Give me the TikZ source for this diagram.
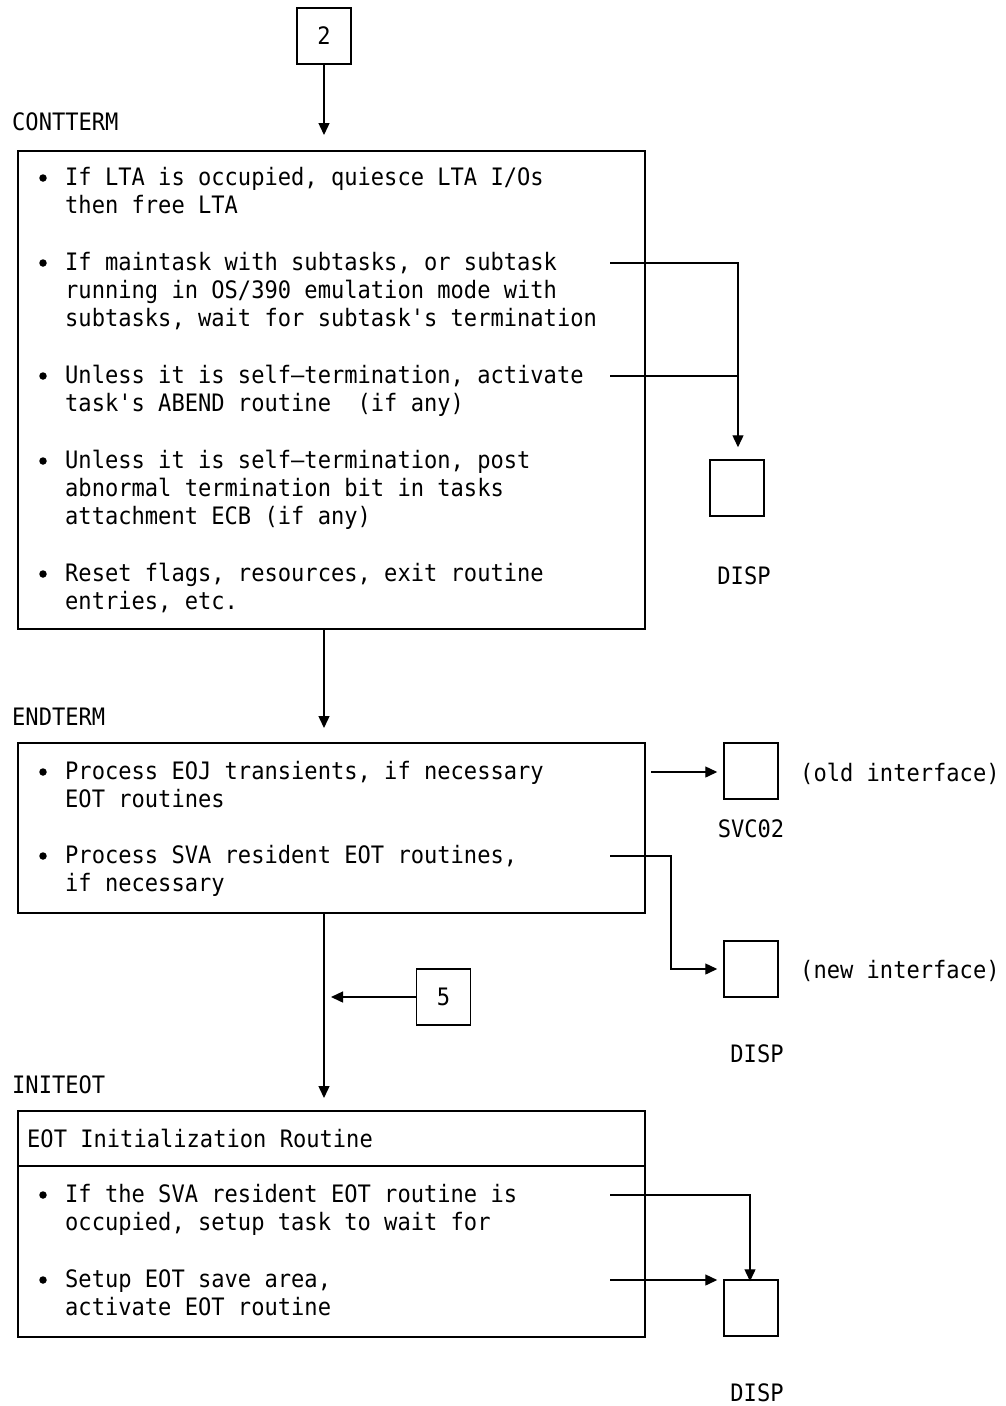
\documentclass[tikz,border=0pt]{standalone}
\usepackage{fontspec}
\usetikzlibrary{arrows.meta}
\newfontfamily\monof[FakeStretch=0.92]{DejaVu Sans Mono}
\begin{document}
\begin{tikzpicture}[x=1pt,y=-1pt,
  txt/.style={font=\monof\fontsize{24}{28}\selectfont, inner sep=0pt, anchor=north west, align=left, execute at begin node={\rule{0pt}{20pt}}},
  lbl/.style={font=\monof\fontsize{24}{28}\selectfont, inner sep=0pt, anchor=base},
  lbw/.style={font=\monof\fontsize{24}{28}\selectfont, inner sep=0pt, anchor=base west},
  bul/.style={circle, fill, inner sep=0pt, minimum size=7.5pt},
  frame/.style={draw, line width=1.5pt},
  conn/.style={line width=1.4pt},
  arr/.style={line width=1.4pt, -{Triangle[length=12pt,width=11pt]}},
  smallbox/.style={draw, line width=1.5pt, minimum width=54pt, minimum height=56pt, inner sep=0pt, font=\monof\fontsize{24}{28}\selectfont}
]
\useasboundingbox (0,0) rectangle (1005,1406);

% ---- top connector box 2
\node[smallbox] (c2) at (324,36) {2};
\node[lbw] (lcont) at (12,130) {CONTTERM};

% ---- CONTTERM box
\node[frame, minimum width=627pt, minimum height=478pt, inner sep=0pt, anchor=north west] (cont) at (17,150) {};
\node[bul] (b1) at (43,178) {};
\node[txt] (t1) at (65,167) {If LTA is occupied, quiesce LTA I/Os\\then free LTA};
\node[bul] (b2) at (43,263) {};
\node[txt] (t2) at (65,252) {If maintask with subtasks, or subtask\\running in OS/390 emulation mode with\\subtasks, wait for subtask's termination};
\node[bul] (b3) at (43,376) {};
\node[txt] (t3) at (65,365) {Unless it is self—termination, activate\\task's ABEND routine\ \ (if any)};
\node[bul] (b4) at (43,461) {};
\node[txt] (t4) at (65,450) {Unless it is self—termination, post\\abnormal termination bit in tasks\\attachment ECB (if any)};
\node[bul] (b5) at (43,574) {};
\node[txt] (t5) at (65,563) {Reset flags, resources, exit routine\\entries, etc.};

\node[smallbox] (disp1) at (737,488) {};
\node[lbl] (ldisp1) at (744,584) {DISP};

\coordinate (s1) at (610,263);
\coordinate (s2) at (610,376);
\coordinate (j1) at (738,263);
\coordinate (j2) at (738,376);
\draw[conn] (s1) -- (j1) -- (j2);
\draw[conn] (s2) -- (j2);
\draw[arr] (j2) -- ([yshift=12pt]disp1.north -| j2);

% ---- ENDTERM
\node[lbw] (lend) at (12,725) {ENDTERM};
\node[frame, minimum width=627pt, minimum height=170pt, inner sep=0pt, anchor=north west] (endt) at (17,742) {};
\node[bul] (e1b) at (43,772) {};
\node[txt] (e1) at (65,761) {Process EOJ transients, if necessary\\EOT routines};
\node[bul] (e2b) at (43,856) {};
\node[txt] (e2) at (65,845) {Process SVA resident EOT routines,\\if necessary};

\node[smallbox] (svc) at (751,771) {};
\node[lbw] (old) at (800,781) {(old interface)};
\node[lbl] (lsvc) at (751,837) {SVC02};

\node[smallbox] (disp2) at (751,969) {};
\node[lbw] (new) at (800,978) {(new interface)};
\node[lbl] (ldisp2) at (757,1062) {DISP};

\coordinate (o1) at (651,772);
\draw[arr] (o1) -- ([xshift=-6pt]svc.west |- o1);
\coordinate (n1) at (610,856);
\coordinate (n2) at (671,856);
\coordinate (n3) at (671,969);
\draw[arr] (n1) -- (n2) -- (n3) -- ([xshift=-6pt]disp2.west |- n3);

% ---- box 5
\node[smallbox] (c5) at (443.5,997) {5};
\coordinate (m5) at (331,997);
\draw[arr] (c5.west) -- (m5);

% ---- INITEOT
\node[lbw] (linit) at (12,1093) {INITEOT};
\node[frame, minimum width=627pt, minimum height=226pt, inner sep=0pt, anchor=north west] (init) at (17,1110) {};
\draw[line width=1.5pt] (init.west |- 0,1166) -- (init.east |- 0,1166);
\node[lbw] (ih) at (27,1147) {EOT Initialization Routine};
\node[bul] (i1b) at (43,1195) {};
\node[txt] (i1) at (65,1184) {If the SVA resident EOT routine is\\occupied, setup task to wait for};
\node[bul] (i2b) at (43,1280) {};
\node[txt] (i2) at (65,1269) {Setup EOT save area,\\activate EOT routine};

\node[smallbox] (disp3) at (751,1308) {};
\node[lbl] (ldisp3) at (757,1401) {DISP};

\coordinate (p1) at (610,1195);
\coordinate (p2) at (750,1195);
\draw[arr] (p1) -- (p2) -- ([yshift=-2pt]disp3.north -| p2);
\coordinate (q1) at (610,1280);
\draw[arr] (q1) -- ([xshift=-6pt]disp3.west |- q1);

% ---- main vertical flow
\draw[arr] (c2.south) -- ([yshift=15pt]cont.north -| c2.south);
\draw[arr] (cont.south -| c2.south) -- ([yshift=14pt]endt.north -| c2.south);
\draw[arr] (endt.south -| c2.south) -- ([yshift=12pt]init.north -| c2.south);
\end{tikzpicture}
\end{document}
